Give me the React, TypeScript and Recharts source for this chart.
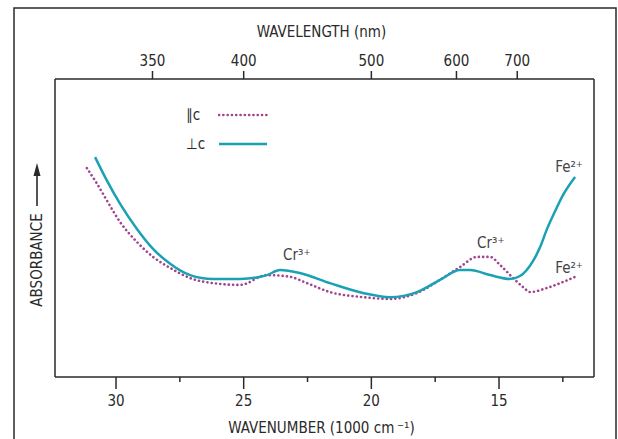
import { LineChart, Line, XAxis, YAxis, Legend, ReferenceDot } from 'recharts';

// wavenumber in 1000 cm-1, absorbance in arbitrary units (0-100)
const perpWavenumber = [30.82, 30.35, 29.84, 29.18, 28.55, 27.88, 27.1, 26.2, 25.14, 24.09, 23.58, 22.8, 21.62, 20.33, 19.27, 18.21, 17.31, 16.53, 16.13, 15.35, 14.57, 14.18, 13.67, 13.39, 13.12, 12.8, 12.49, 12.02];
const perpAbsorbance = [73.8, 65.8, 58.1, 49.7, 43.0, 38.0, 34.2, 32.9, 32.9, 34.2, 35.9, 34.9, 31.5, 28.2, 26.8, 28.5, 32.6, 35.9, 35.9, 34.2, 32.9, 33.9, 38.9, 43.6, 49.7, 55.7, 61.1, 67.1];

const parWavenumber = [31.14, 30.74, 30.35, 29.84, 29.18, 28.55, 27.88, 27.1, 26.2, 25.14, 24.09, 23.18, 22.52, 21.62, 20.33, 19.27, 18.21, 17.31, 16.53, 15.86, 15.35, 14.96, 14.45, 14.06, 13.78, 13.12, 12.49, 12.02];
const parAbsorbance = [70.1, 64.8, 59.1, 52.0, 45.3, 40.3, 36.6, 33.2, 31.5, 30.9, 34.2, 33.6, 31.5, 28.5, 26.8, 26.2, 28.2, 32.6, 36.9, 40.3, 40.3, 37.6, 33.2, 30.2, 28.5, 29.9, 31.9, 33.6];

const bottomTicks = [30, 27.5, 25, 22.5, 20, 17.5, 15, 12.5];
const wavelengthTicks = [350, 400, 500, 600, 700];

const annotations = [
  { w: 23.46, v: 40.9, text: 'Cr³⁺' },
  { w: 15.86, v: 45.0, text: 'Cr³⁺' },
  { w: 12.8, v: 70.5, text: 'Fe²⁺' },
  { w: 12.8, v: 36.6, text: 'Fe²⁺' },
];

const perpData = perpWavenumber.map((w, i) => ({ w, v: perpAbsorbance[i] }));
const parData = parWavenumber.map((w, i) => ({ w, v: parAbsorbance[i] }));

const X_DOMAIN = [11.28, 32.39];
const FONT = "'Liberation Sans Narrow', 'DejaVu Sans Condensed', 'Arial Narrow', sans-serif";
const INK = '#2a2a2a';
const TEAL = '#1aa1b3';
const MAGENTA = '#a0458e';

const BottomTick = ({ x, y, payload }: any) => {
  const major = payload.value % 5 === 0;
  return (
    <g>
      <line x1={x} x2={x} y1={y} y2={y + (major ? 12 : 5)} stroke={INK} strokeWidth={1.5} />
      {major && (
        <text x={x} y={y + 29} textAnchor="middle" fontFamily={FONT} fontSize={15} fill={INK}>
          {payload.value}
        </text>
      )}
    </g>
  );
};

const TopTick = ({ x, y, payload }: any) => (
  <g>
    <line x1={x} x2={x} y1={y} y2={y - 8} stroke={INK} strokeWidth={1.5} />
    <text x={x} y={y - 13} textAnchor="middle" fontFamily={FONT} fontSize={15} fill={INK}>
      {Math.round(10000 / payload.value)}
    </text>
  </g>
);

const LegendContent = ({ payload }: any) => (
  <div style={{ fontFamily: "'DejaVu Sans Condensed', sans-serif", fontSize: 15, color: INK }}>
    {(payload || []).map((entry: any, i: number) => (
      <div key={i} style={{ display: 'flex', alignItems: 'center', height: 20, marginBottom: 9 }}>
        <span style={{ width: 32 }}>{entry.value}</span>
        <svg width={50} height={6}>
          <line
            x1={1} x2={49} y1={3} y2={3}
            stroke={entry.color}
            strokeWidth={entry.payload.strokeDasharray ? 2.6 : 2.5}
            strokeDasharray={entry.payload.strokeDasharray}
            strokeLinecap={entry.payload.strokeDasharray ? 'round' : 'butt'}
          />
        </svg>
      </div>
    ))}
  </div>
);

const annotationLabel = (text: string) => ({
  content: (p: any) => (
    <text x={p.viewBox.x} y={p.viewBox.y} dominantBaseline="central" fontFamily={FONT} fontSize={15} fill="#444">
      {text}
    </text>
  ),
});

const absorbanceLabel = {
  content: (p: any) => {
    const x = p.viewBox.x + p.viewBox.width - 18;
    return (
      <g>
        <text
          x={x} y={260}
          transform={`rotate(-90 ${x} 260)`}
          textAnchor="middle" dominantBaseline="central"
          fontFamily={FONT} fontSize={15} fill={INK}
        >
          ABSORBANCE
        </text>
        <line x1={x} x2={x} y1={206} y2={174} stroke={INK} strokeWidth={1.6} />
        <polygon points={`${x},163 ${x - 3.5},176 ${x + 3.5},176`} fill={INK} />
      </g>
    );
  },
};

const titleLabel = (text: string, dy: number) => ({
  content: (p: any) => (
    <text
      x={p.viewBox.x + p.viewBox.width / 2 - 3}
      y={p.viewBox.y + dy}
      textAnchor="middle"
      fontFamily={FONT} fontSize={15} fill={INK}
    >
      {text}
    </text>
  ),
});

export default function App() {
  return (
    <div style={{ position: 'absolute', left: 0, top: 0, width: 618, height: 439, background: '#fff' }}>
      <LineChart width={618} height={439} margin={{ top: 49, right: 23, bottom: 32, left: 54 }}>
        <XAxis
          xAxisId="bottom" dataKey="w" type="number" domain={X_DOMAIN} reversed allowDataOverflow
          ticks={bottomTicks} tick={<BottomTick />} tickLine={false} tickSize={0} tickMargin={0}
          interval={0} height={30} axisLine={{ stroke: INK, strokeWidth: 1.5 }}
          label={titleLabel('WAVENUMBER (1000 cm\u2009\u207B\u00B9)', 56)}
        />
        <XAxis
          xAxisId="top" dataKey="w" orientation="top" type="number" domain={X_DOMAIN} reversed allowDataOverflow
          ticks={wavelengthTicks.map((l) => 10000 / l)} tick={<TopTick />} tickLine={false} tickSize={0} tickMargin={0}
          interval={0} height={30} axisLine={{ stroke: INK, strokeWidth: 1.5 }}
          label={titleLabel('WAVELENGTH (nm)', -12)}
        />
        <YAxis
          yAxisId="left" type="number" domain={[0, 100]} width={1} tick={false} tickLine={false}
          axisLine={{ stroke: INK, strokeWidth: 1.5 }} label={absorbanceLabel}
        />
        <YAxis
          yAxisId="right" orientation="right" type="number" domain={[0, 100]} width={1} tick={false} tickLine={false}
          axisLine={{ stroke: INK, strokeWidth: 1.5 }}
        />
        <Line
          xAxisId="bottom" yAxisId="left" data={parData} dataKey="v" name="∥c"
          type="monotone" stroke={MAGENTA} strokeWidth={2.6} strokeDasharray="0.1 4.2" strokeLinecap="round"
          dot={false} activeDot={false} isAnimationActive={false}
        />
        <Line
          xAxisId="bottom" yAxisId="left" data={perpData} dataKey="v" name="⊥c"
          type="monotone" stroke={TEAL} strokeWidth={2.5}
          dot={false} activeDot={false} isAnimationActive={false}
        />
        {annotations.map((a, i) => (
          <ReferenceDot
            key={i} xAxisId="bottom" yAxisId="left" x={a.w} y={a.v} r={0}
            fill="none" stroke="none" label={annotationLabel(a.text)}
          />
        ))}
        <Legend
          layout="vertical" align="center" verticalAlign="middle"
          wrapperStyle={{ left: 186, top: 105, width: 'auto', height: 'auto' }}
          content={<LegendContent />}
        />
      </LineChart>
      <svg
        width={618} height={439}
        style={{ position: 'absolute', left: 0, top: 0, pointerEvents: 'none' }}
      >
        <polyline points="14,439 14,8 616,8 616,439" fill="none" stroke={INK} strokeWidth={1.5} />
      </svg>
    </div>
  );
}
